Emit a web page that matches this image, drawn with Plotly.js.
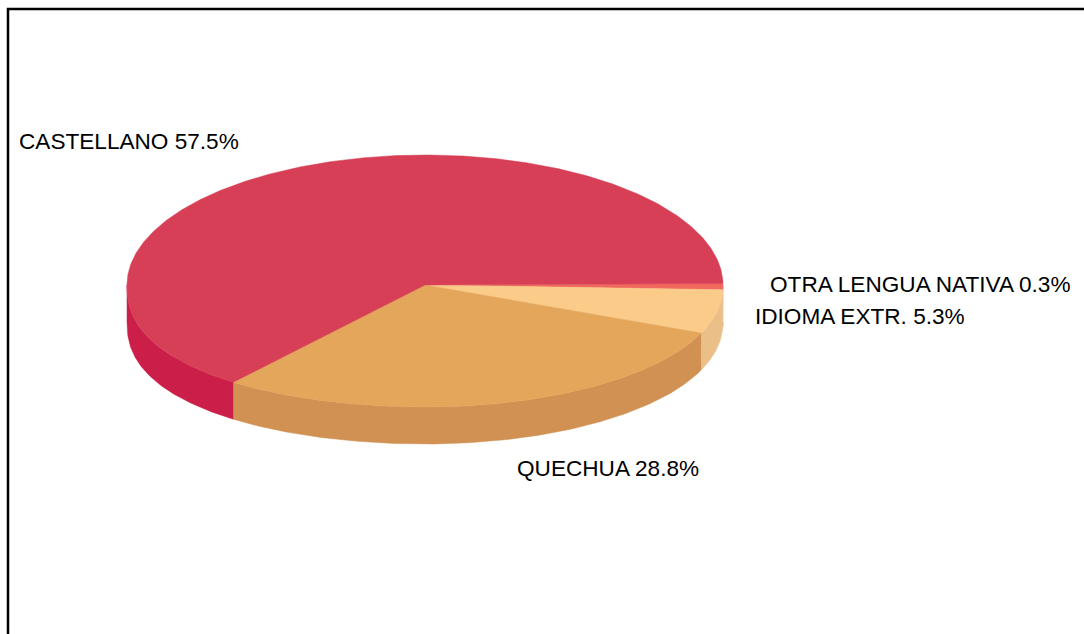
<!DOCTYPE html>
<html>
<head>
<meta charset="utf-8">
<script src="https://cdn.plot.ly/plotly-3.0.1.min.js"></script>
<style>html,body{margin:0;padding:0;background:#fff;overflow:hidden}#chart{width:1084px;height:634px}</style>
</head>
<body>
<div id="chart"></div>
<script>
// Data, clockwise from the right-hand edge of the disc
var categories = ["OTRA LENGUA NATIVA", "IDIOMA EXTR.", "QUECHUA", "CASTELLANO"];
var labelledPercent = ["0.3%", "5.3%", "28.8%", "57.5%"];
// Slice sizes as drawn in the picture (they differ from the printed percentages)
var drawnShares = [0.7, 5.6, 30.0, 63.7];
var topColors = ["#F0695E", "#FBCB8A", "#E4A65A", "#D63F55"];
var sideColors = ["#F0695E", "#EBC088", "#D19152", "#CB1E49"];

// Geometry of the tilted disc, in axis units (= pixels)
var cx = 425, cy = 285, rx = 298, ryBack = 130, ryFront = 122, depth = 37;
var startAngle = -0.66;
var frontBulgeRight = 0.95, frontBulgeLeft = 0.85;
var labelX = [770, 755, 517, 19];
var labelY = [286, 318, 470, 143];

function rimX(deg) { return cx + rx * Math.cos(deg * Math.PI / 180); }
function rimY(deg) {
  var s = Math.sin(deg * Math.PI / 180);
  if (s < 0) return cy + ryBack * s;
  var p = Math.cos(deg * Math.PI / 180) >= 0 ? frontBulgeRight : frontBulgeLeft;
  return cy + ryFront * Math.pow(s, p);
}
function arcAngles(a, b) {
  var out = [], n = Math.max(2, Math.ceil(Math.abs(b - a) * 2));
  for (var i = 0; i <= n; i++) out.push(a + (b - a) * i / n);
  return out;
}

var total = drawnShares.reduce(function (p, v) { return p + v; }, 0);
var sides = [], tops = [], angle = startAngle;
categories.forEach(function (name, i) {
  var sweep = 360 * drawnShares[i] / total;
  var a = angle, b = angle + sweep;
  angle = b;
  // Visible rim: the part of the slice on the front half (0..180 degrees)
  var fa = Math.max(a, 0), fb = Math.min(b, 180);
  if (fb > fa) {
    var arc = arcAngles(fa, fb);
    var xs = arc.map(rimX), ys = arc.map(rimY);
    var rev = arc.slice().reverse();
    sides.push({
      type: "scatter", mode: "lines", fill: "toself", hoverinfo: "skip", showlegend: false,
      x: xs.concat(rev.map(rimX)),
      y: ys.concat(rev.map(function (d) { return rimY(d) + depth; })),
      fillcolor: sideColors[i], line: { color: sideColors[i], width: 0.5 }
    });
  }
  var top = arcAngles(a, b);
  tops.push({
    type: "scatter", mode: "lines", fill: "toself", hoverinfo: "skip", showlegend: false,
    x: [cx].concat(top.map(rimX), [cx]),
    y: [cy].concat(top.map(rimY), [cy]),
    fillcolor: topColors[i], line: { color: topColors[i], width: 0.5 }
  });
});

var labels = {
  type: "scatter", mode: "text", hoverinfo: "skip", showlegend: false,
  x: labelX, y: labelY,
  text: categories.map(function (c, i) { return c + " " + labelledPercent[i]; }),
  textposition: "middle right",
  textfont: { family: "Liberation Sans, Arial, sans-serif", size: 22.6, color: "#000" },
  cliponaxis: false
};

var layout = {
  width: 1084, height: 634,
  margin: { l: 0, r: 0, t: 0, b: 0 },
  paper_bgcolor: "#fff", plot_bgcolor: "#fff",
  xaxis: { range: [0, 1084], visible: false, fixedrange: true },
  yaxis: { range: [634, 0], visible: false, fixedrange: true },
  shapes: [{
    type: "path", xref: "x", yref: "y",
    path: "M 8 640 L 8 9 L 1090 9",
    line: { color: "#000", width: 2.5 }
  }]
};

Plotly.newPlot("chart", sides.concat(tops, [labels]), layout, { displayModeBar: false, staticPlot: true });
</script>
</body>
</html>
